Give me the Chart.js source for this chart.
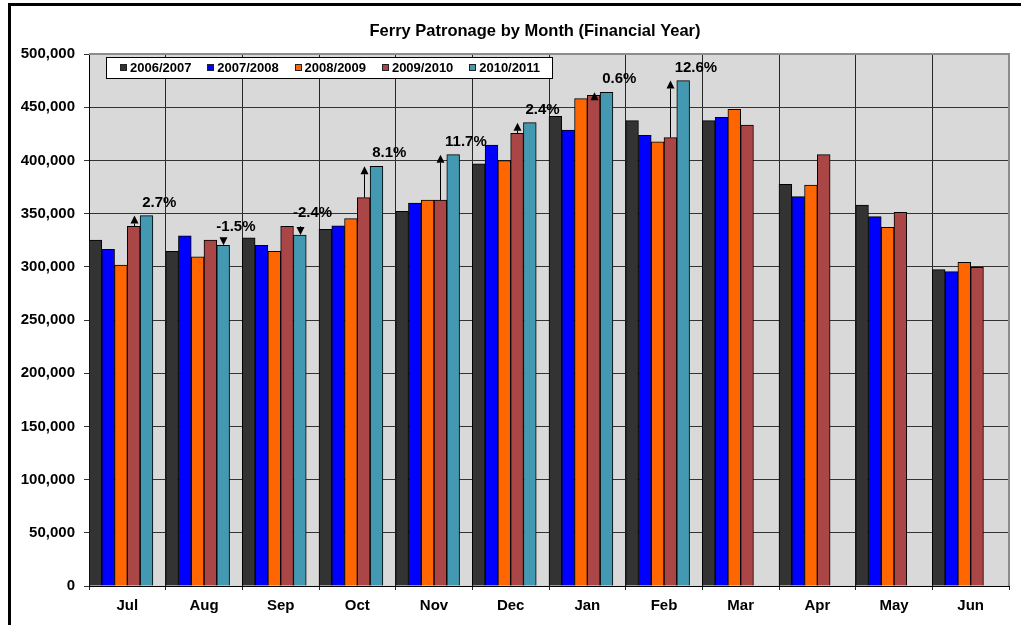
<!DOCTYPE html>
<html>
<head>
<meta charset="utf-8">
<script src="https://cdn.jsdelivr.net/npm/chart.js@4/dist/chart.umd.min.js"></script>
<style>
html,body{margin:0;padding:0;background:#fff;}
#wrap{width:1021px;height:625px;position:relative;}
canvas{display:block;}
</style>
</head>
<body>
<div id="wrap"><canvas id="c" width="1021" height="625"></canvas></div>
<script>
const chartTitle = 'Ferry Patronage by Month (Financial Year)';
const months = ['Jul','Aug','Sep','Oct','Nov','Dec','Jan','Feb','Mar','Apr','May','Jun'];
const seriesLabels = ['2006/2007','2007/2008','2008/2009','2009/2010','2010/2011'];
const fy0607 = [325200, 314600, 327300, 335300, 352200, 396700, 441500, 437400, 437400, 377600, 357900, 297300];
const fy0708 = [316500, 329000, 320200, 338400, 360000, 414300, 428600, 423600, 440400, 366000, 347200, 295500];
const fy0809 = [301500, 309300, 314600, 345300, 362800, 399800, 458100, 417400, 448100, 376700, 337200, 304300];
const fy0910 = [338100, 325200, 338100, 365000, 362800, 425500, 461200, 421400, 433300, 405400, 351300, 299600];
const fy1011 = [348100, 320200, 329900, 394500, 405400, 435500, 464000, 475000, null, null, null, null];
// empty placeholder slot (next financial year, no data yet)
const fy1112 = [null, null, null, null, null, null, null, null, null, null, null, null];
const changeLabels = ['2.7%', '-1.5%', '-2.4%', '8.1%', '11.7%', '2.4%', '0.6%', '12.6%', null, null, null, null];
const seriesColors = ['#333333', '#0000FF', '#FF6600', '#AA4646', '#4399B1'];

const FONT = "'Liberation Sans', Arial, Helvetica, sans-serif";

const decorPlugin = {
  id: 'decor',
  beforeDraw(chart) {
    const ctx = chart.ctx, a = chart.chartArea;
    ctx.save();
    ctx.fillStyle = '#ffffff';
    ctx.fillRect(0, 0, chart.width, chart.height);
    ctx.lineWidth = 3;
    ctx.strokeStyle = '#000';
    ctx.strokeRect(9.5, 4.5, 1100, 700);
    ctx.fillStyle = '#D9D9D9';
    ctx.fillRect(a.left, a.top, a.right - a.left, a.bottom - a.top);
    ctx.fillStyle = '#000';
    ctx.font = 'bold 16.5px ' + FONT;
    ctx.textAlign = 'center';
    ctx.textBaseline = 'middle';
    ctx.fillText(chartTitle, 535, 31);
    ctx.restore();
  },
  beforeDatasetsDraw(chart) {
    const ctx = chart.ctx, a = chart.chartArea;
    ctx.save();
    ctx.strokeStyle = '#8C8C8C';
    ctx.lineWidth = 2;
    ctx.beginPath();
    ctx.moveTo(a.left, a.top);
    ctx.lineTo(a.right, a.top);
    ctx.lineTo(a.right, a.bottom);
    ctx.stroke();
    ctx.restore();
  },
  afterDatasetsDraw(chart) {
    const ctx = chart.ctx, a = chart.chartArea;
    const red = chart.getDatasetMeta(3).data, teal = chart.getDatasetMeta(4).data;
    ctx.save();
    ctx.fillStyle = '#000';
    ctx.strokeStyle = '#000';
    ctx.lineWidth = 1;
    changeLabels.forEach((lab, i) => {
      if (!lab) return;
      const r = red[i], t = teal[i];
      const up = fy1011[i] >= fy0910[i];
      const x = Math.round(up ? r.x : t.x) + 0.5;
      const tip = t.y;
      const head = 8, hw = 4;
      const base = up ? tip + head : tip - head;
      if ((up && r.y > base) || (!up && r.y < base)) {
        ctx.beginPath();
        ctx.moveTo(x, r.y);
        ctx.lineTo(x, base);
        ctx.stroke();
      }
      ctx.beginPath();
      ctx.moveTo(x, tip);
      ctx.lineTo(x - hw, base);
      ctx.lineTo(x + hw, base);
      ctx.closePath();
      ctx.fill();
      ctx.font = 'bold 15px ' + FONT;
      ctx.textAlign = 'center';
      ctx.textBaseline = 'middle';
      ctx.fillText(lab, t.x + t.width, Math.min(r.y, t.y) - 13);
    });
    // legend box
    ctx.fillStyle = '#fff';
    ctx.fillRect(106, 57, 446, 21);
    ctx.strokeStyle = '#000';
    ctx.strokeRect(106.5, 57.5, 446, 21);
    ctx.font = 'bold 13px ' + FONT;
    ctx.textAlign = 'left';
    ctx.textBaseline = 'middle';
    seriesLabels.forEach((lab, i) => {
      const sx = 120 + i * 87.3;
      ctx.fillStyle = seriesColors[i];
      ctx.fillRect(Math.round(sx), 64, 6, 6);
      ctx.strokeStyle = '#222';
      ctx.strokeRect(Math.round(sx) + 0.5, 64.5, 6, 6);
      ctx.fillStyle = '#000';
      ctx.fillText(lab, sx + 10, 68);
    });
    ctx.restore();
  }
};

const allSeries = [fy0607, fy0708, fy0809, fy0910, fy1011];
const datasets = allSeries.map((d, i) => ({
  label: seriesLabels[i],
  data: d,
  backgroundColor: seriesColors[i],
  borderColor: '#000',
  borderWidth: 1
}));
datasets.push({ label: '2011/2012', data: fy1112, backgroundColor: '#ffffff', borderWidth: 0 });

new Chart(document.getElementById('c'), {
  type: 'bar',
  data: { labels: months, datasets },
  options: {
    responsive: false,
    devicePixelRatio: 1,
    animation: false,
    layout: { padding: { top: 54, right: 12, left: 0, bottom: 0 } },
    plugins: { legend: { display: false }, title: { display: false }, tooltip: { enabled: false } },
    datasets: { bar: { categoryPercentage: 1, barPercentage: 1 } },
    scales: {
      x: {
        grid: { color: '#262626', lineWidth: 1, tickLength: 4, offset: true },
        border: { color: '#000', width: 1 },
        ticks: { color: '#000', font: { family: FONT, size: 15, weight: 'bold' }, padding: 7, maxRotation: 0, autoSkip: false },
        afterFit(s) { s.height = 39; }
      },
      y: {
        min: 0, max: 500000,
        grid: { color: '#333333', lineWidth: 1, tickLength: 5 },
        border: { color: '#000', width: 1 },
        ticks: { stepSize: 50000, color: '#000', font: { family: FONT, size: 15, weight: 'bold' }, padding: 9,
          callback: v => v.toLocaleString('en-US') },
        afterFit(s) { s.width = 89; }
      }
    }
  },
  plugins: [decorPlugin]
});
</script>
</body>
</html>
